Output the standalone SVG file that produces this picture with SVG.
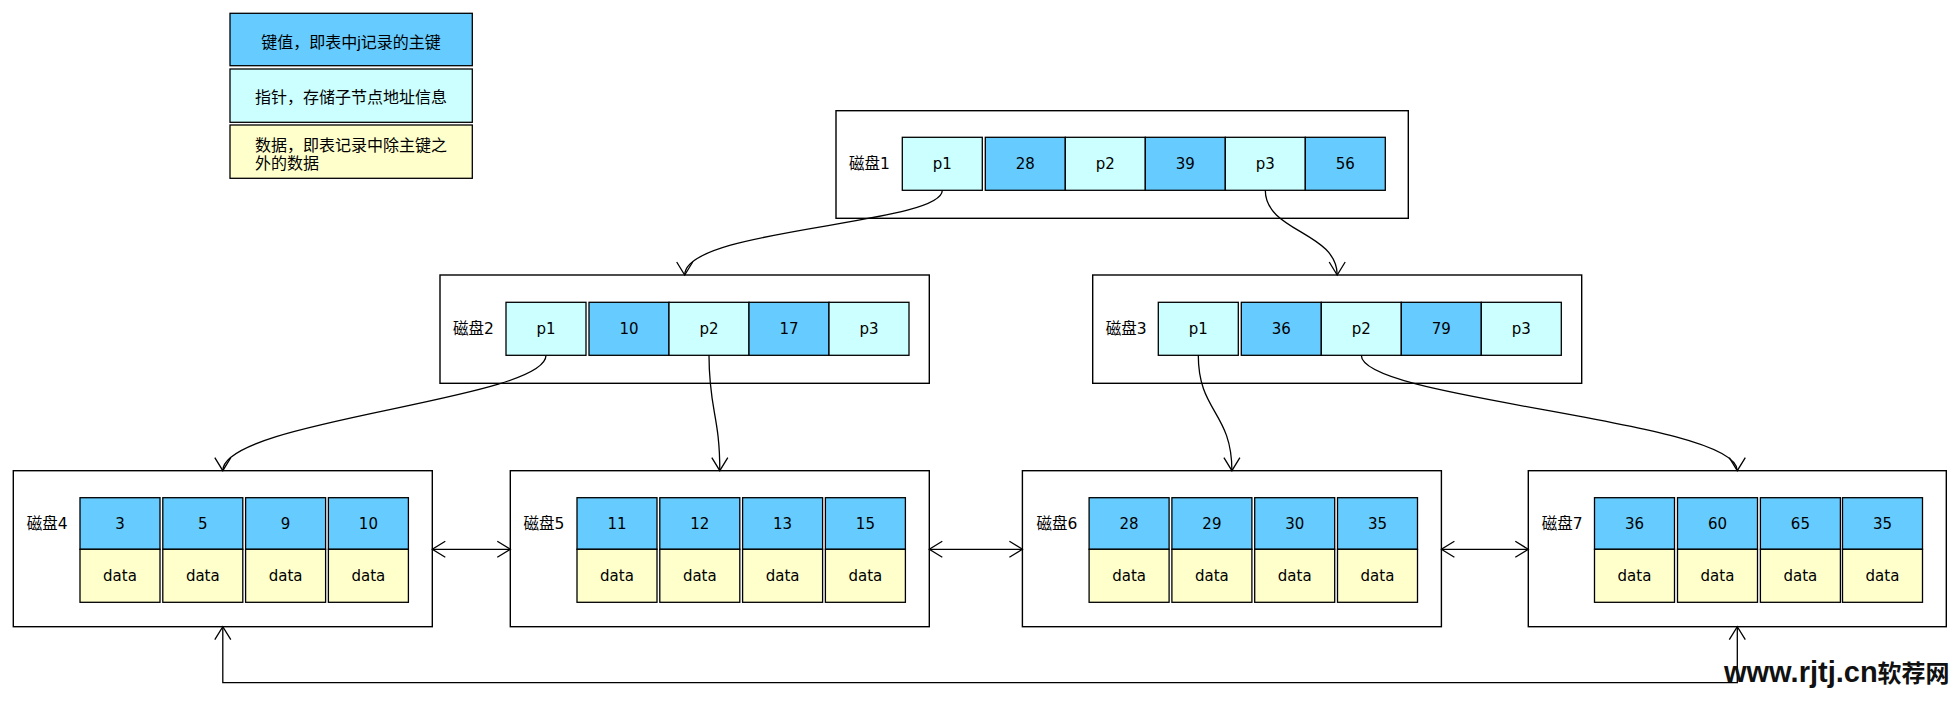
<svg xmlns="http://www.w3.org/2000/svg" width="1960" height="718" viewBox="0 0 1960 718">
<style>
.box{fill:#fff;stroke:#000;stroke-width:1.4}
.k{fill:#66CCFF;stroke:#000;stroke-width:1.3}
.p{fill:#CCFFFF;stroke:#000;stroke-width:1.3}
.d{fill:#FFFFCC;stroke:#000;stroke-width:1.3}
.t{font-family:"DejaVu Sans",sans-serif;font-size:15px;fill:#000;text-anchor:middle;dominant-baseline:central}
.lbl{font-family:"DejaVu Sans","Noto Sans CJK SC",sans-serif;font-size:15.5px;fill:#000;dominant-baseline:central}
.lg{font-family:"Liberation Sans","Noto Sans CJK SC",sans-serif;font-size:16px;fill:#000}
.e{fill:none;stroke:#000;stroke-width:1.3}
</style>
<defs>
<marker id="arr" viewBox="-15 -10 17 20" refX="0" refY="0" markerWidth="17" markerHeight="20" markerUnits="userSpaceOnUse" orient="auto-start-reverse">
<path d="M-13,-8 L0,0 L-13,8" fill="none" stroke="#000" stroke-width="1.3"/>
</marker>
</defs>
<rect width="1960" height="718" fill="#fff"/>

<g id="legend">
<rect class="k" x="230" y="13.3" width="242.3" height="52.4"/>
<text class="lg" x="351" y="42" text-anchor="middle" dominant-baseline="central">键值，即表中j记录的主键</text>
<rect class="p" x="230" y="69" width="242.3" height="53.3"/>
<text class="lg" x="351" y="97.5" text-anchor="middle" dominant-baseline="central">指针，存储子节点地址信息</text>
<rect class="d" x="230" y="125" width="242.3" height="53.3"/>
<text class="lg" x="255" y="145" dominant-baseline="central">数据，即表记录中除主键之</text>
<text class="lg" x="255" y="163" dominant-baseline="central">外的数据</text>
</g>

<g id="disk1">
<rect class="box" x="836" y="110.7" width="572.3" height="107.6"/>
<text class="lbl" x="849" y="163.8">磁盘1</text>
<rect class="p" x="902.3" y="137.3" width="80" height="53"/><text class="t" x="942.3" y="163.8">p1</text>
<rect class="k" x="985.3" y="137.3" width="80" height="53"/><text class="t" x="1025.3" y="163.8">28</text>
<rect class="p" x="1065.3" y="137.3" width="80" height="53"/><text class="t" x="1105.3" y="163.8">p2</text>
<rect class="k" x="1145.3" y="137.3" width="80" height="53"/><text class="t" x="1185.3" y="163.8">39</text>
<rect class="p" x="1225.3" y="137.3" width="80" height="53"/><text class="t" x="1265.3" y="163.8">p3</text>
<rect class="k" x="1305.3" y="137.3" width="80" height="53"/><text class="t" x="1345.3" y="163.8">56</text>
</g>

<g id="disk2">
<rect class="box" x="440" y="275" width="489.3" height="108.3"/>
<text class="lbl" x="453" y="329">磁盘2</text>
<rect class="p" x="506" y="302.3" width="80" height="53"/><text class="t" x="546" y="328.8">p1</text>
<rect class="k" x="589" y="302.3" width="80" height="53"/><text class="t" x="629" y="328.8">10</text>
<rect class="p" x="669" y="302.3" width="80" height="53"/><text class="t" x="709" y="328.8">p2</text>
<rect class="k" x="749" y="302.3" width="80" height="53"/><text class="t" x="789" y="328.8">17</text>
<rect class="p" x="829" y="302.3" width="80" height="53"/><text class="t" x="869" y="328.8">p3</text>
</g>

<g id="disk3">
<rect class="box" x="1092.7" y="275" width="489" height="108.3"/>
<text class="lbl" x="1105.7" y="329">磁盘3</text>
<rect class="p" x="1158.3" y="302.3" width="80" height="53"/><text class="t" x="1198.3" y="328.8">p1</text>
<rect class="k" x="1241.3" y="302.3" width="80" height="53"/><text class="t" x="1281.3" y="328.8">36</text>
<rect class="p" x="1321.3" y="302.3" width="80" height="53"/><text class="t" x="1361.3" y="328.8">p2</text>
<rect class="k" x="1401.3" y="302.3" width="80" height="53"/><text class="t" x="1441.3" y="328.8">79</text>
<rect class="p" x="1481.3" y="302.3" width="80" height="53"/><text class="t" x="1521.3" y="328.8">p3</text>
</g>

<g id="disk4">
<rect class="box" x="13.3" y="470.7" width="419" height="156"/>
<text class="lbl" x="26.8" y="524">磁盘4</text>
<rect class="k" x="80" y="497.7" width="80" height="51.6"/><text class="t" x="120" y="523.5">3</text>
<rect class="k" x="162.8" y="497.7" width="80" height="51.6"/><text class="t" x="202.8" y="523.5">5</text>
<rect class="k" x="245.6" y="497.7" width="80" height="51.6"/><text class="t" x="285.6" y="523.5">9</text>
<rect class="k" x="328.4" y="497.7" width="80" height="51.6"/><text class="t" x="368.4" y="523.5">10</text>
<rect class="d" x="80" y="549.3" width="80" height="53"/><text class="t" x="120" y="575.8">data</text>
<rect class="d" x="162.8" y="549.3" width="80" height="53"/><text class="t" x="202.8" y="575.8">data</text>
<rect class="d" x="245.6" y="549.3" width="80" height="53"/><text class="t" x="285.6" y="575.8">data</text>
<rect class="d" x="328.4" y="549.3" width="80" height="53"/><text class="t" x="368.4" y="575.8">data</text>
</g>

<g id="disk5">
<rect class="box" x="510.3" y="470.7" width="419" height="156"/>
<text class="lbl" x="523.6" y="524">磁盘5</text>
<rect class="k" x="577" y="497.7" width="80" height="51.6"/><text class="t" x="617" y="523.5">11</text>
<rect class="k" x="659.8" y="497.7" width="80" height="51.6"/><text class="t" x="699.8" y="523.5">12</text>
<rect class="k" x="742.6" y="497.7" width="80" height="51.6"/><text class="t" x="782.6" y="523.5">13</text>
<rect class="k" x="825.4" y="497.7" width="80" height="51.6"/><text class="t" x="865.4" y="523.5">15</text>
<rect class="d" x="577" y="549.3" width="80" height="53"/><text class="t" x="617" y="575.8">data</text>
<rect class="d" x="659.8" y="549.3" width="80" height="53"/><text class="t" x="699.8" y="575.8">data</text>
<rect class="d" x="742.6" y="549.3" width="80" height="53"/><text class="t" x="782.6" y="575.8">data</text>
<rect class="d" x="825.4" y="549.3" width="80" height="53"/><text class="t" x="865.4" y="575.8">data</text>
</g>

<g id="disk6">
<rect class="box" x="1022.4" y="470.7" width="419" height="156"/>
<text class="lbl" x="1036.4" y="524">磁盘6</text>
<rect class="k" x="1089.1" y="497.7" width="80" height="51.6"/><text class="t" x="1129.1" y="523.5">28</text>
<rect class="k" x="1171.9" y="497.7" width="80" height="51.6"/><text class="t" x="1211.9" y="523.5">29</text>
<rect class="k" x="1254.7" y="497.7" width="80" height="51.6"/><text class="t" x="1294.7" y="523.5">30</text>
<rect class="k" x="1337.5" y="497.7" width="80" height="51.6"/><text class="t" x="1377.5" y="523.5">35</text>
<rect class="d" x="1089.1" y="549.3" width="80" height="53"/><text class="t" x="1129.1" y="575.8">data</text>
<rect class="d" x="1171.9" y="549.3" width="80" height="53"/><text class="t" x="1211.9" y="575.8">data</text>
<rect class="d" x="1254.7" y="549.3" width="80" height="53"/><text class="t" x="1294.7" y="575.8">data</text>
<rect class="d" x="1337.5" y="549.3" width="80" height="53"/><text class="t" x="1377.5" y="575.8">data</text>
</g>

<g id="disk7">
<rect class="box" x="1528.3" y="470.7" width="418" height="156"/>
<text class="lbl" x="1541.7" y="524">磁盘7</text>
<rect class="k" x="1594.5" y="497.7" width="80" height="51.6"/><text class="t" x="1634.5" y="523.5">36</text>
<rect class="k" x="1677.5" y="497.7" width="80" height="51.6"/><text class="t" x="1717.5" y="523.5">60</text>
<rect class="k" x="1760.4" y="497.7" width="80" height="51.6"/><text class="t" x="1800.4" y="523.5">65</text>
<rect class="k" x="1842.5" y="497.7" width="80" height="51.6"/><text class="t" x="1882.5" y="523.5">35</text>
<rect class="d" x="1594.5" y="549.3" width="80" height="53"/><text class="t" x="1634.5" y="575.8">data</text>
<rect class="d" x="1677.5" y="549.3" width="80" height="53"/><text class="t" x="1717.5" y="575.8">data</text>
<rect class="d" x="1760.4" y="549.3" width="80" height="53"/><text class="t" x="1800.4" y="575.8">data</text>
<rect class="d" x="1842.5" y="549.3" width="80" height="53"/><text class="t" x="1882.5" y="575.8">data</text>
</g>

<g id="connectors">
<path class="e" marker-end="url(#arr)" d="M942.3,190.3 C942.3,225 684.7,228 684.7,275"/>
<path class="e" marker-end="url(#arr)" d="M1265.3,190.3 C1265.3,232 1337.2,232 1337.2,275"/>
<path class="e" marker-end="url(#arr)" d="M546,355.3 C546,400 222.8,420 222.8,470.7"/>
<path class="e" marker-end="url(#arr)" d="M709,355.3 C709,410 719.8,415 719.8,470.7"/>
<path class="e" marker-end="url(#arr)" d="M1198.3,355.3 C1198.3,412 1231.9,412 1231.9,470.7"/>
<path class="e" marker-end="url(#arr)" d="M1361.3,355.3 C1361.3,400 1737.3,420 1737.3,470.7"/>
<path class="e" marker-start="url(#arr)" marker-end="url(#arr)" d="M432.3,549.3 L510.3,549.3"/>
<path class="e" marker-start="url(#arr)" marker-end="url(#arr)" d="M929.3,549.3 L1022.4,549.3"/>
<path class="e" marker-start="url(#arr)" marker-end="url(#arr)" d="M1441.4,549.3 L1528.3,549.3"/>
<path class="e" marker-start="url(#arr)" marker-end="url(#arr)" d="M1737.3,626.7 L1737.3,682.7 L222.8,682.7 L222.8,626.7"/>
</g>

<text x="1724" y="682" font-family="Liberation Sans,Noto Sans CJK SC,sans-serif" font-weight="bold" fill="#111"><tspan font-size="29">www.rjtj.cn</tspan><tspan font-size="24" font-family="Noto Sans CJK SC,sans-serif">软荐网</tspan></text>
</svg>
